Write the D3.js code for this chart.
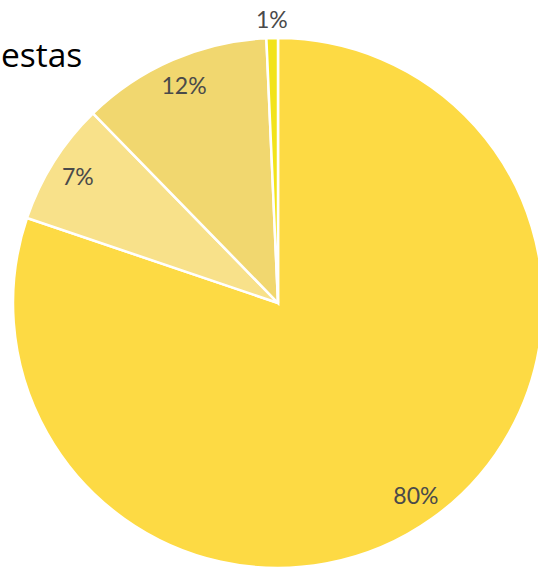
<!DOCTYPE html>
<html>
<head>
<meta charset="utf-8">
<script src="https://cdn.jsdelivr.net/npm/d3@7"></script>
<style>
  body { margin: 0; background: #fff; }
  svg { display: block; }
</style>
</head>
<body>
<div id="chart"></div>
<script>
var fullwidth = 538;
var fullheight = 570;

// slices, clockwise from 12 o'clock
var categories = ["A", "B", "C", "D"];
var values = [80.2, 7.5, 11.6, 0.7];
var labels = ["80%", "7%", "12%", "1%"];
var colors = ["#fdda44", "#f8e18a", "#f1d76f", "#f2e31b"];

var cx = 278, cy = 303, radius = 265;

var svg = d3.select("#chart").append("svg")
    .attr("width", fullwidth)
    .attr("height", fullheight);

svg.append("text")
    .attr("x", 1)
    .attr("y", 67)
    .attr("font-family", "Open Sans, sans-serif")
    .attr("font-size", 33.5)
    .attr("fill", "#000")
    .text("estas");

var data = categories.map(function(c, i) {
    return {name: c, value: values[i], label: labels[i], color: colors[i]};
});

var pie = d3.pie()
    .sort(null)
    .value(function(d) { return d.value; });

var arc = d3.arc()
    .innerRadius(0)
    .outerRadius(radius);

var labelArc = d3.arc()
    .innerRadius(radius * 0.893)
    .outerRadius(radius * 0.893);

var outerArc = d3.arc()
    .innerRadius(radius + 18)
    .outerRadius(radius + 18);

var g = svg.append("g")
    .attr("transform", "translate(" + cx + "," + cy + ")");

var arcs = pie(data);

g.selectAll("path.slice")
    .data(arcs)
    .enter()
    .append("path")
    .attr("class", "slice")
    .attr("d", arc)
    .attr("fill", function(d) { return d.data.color; })
    .attr("stroke", "#fff")
    .attr("stroke-width", 2.5);

g.selectAll("text.labels")
    .data(arcs)
    .enter()
    .append("text")
    .attr("class", "labels")
    .attr("transform", function(d) {
        // small slices get their label outside the pie
        var a = d.data.value < 2 ? outerArc : labelArc;
        return "translate(" + a.centroid(d) + ")";
    })
    .attr("dy", "0.36em")
    .attr("text-anchor", "middle")
    .attr("font-family", "Lato, sans-serif")
    .attr("font-size", 23)
    .attr("fill", "#4a4a4a")
    .text(function(d) { return d.data.label; });
</script>
</body>
</html>
